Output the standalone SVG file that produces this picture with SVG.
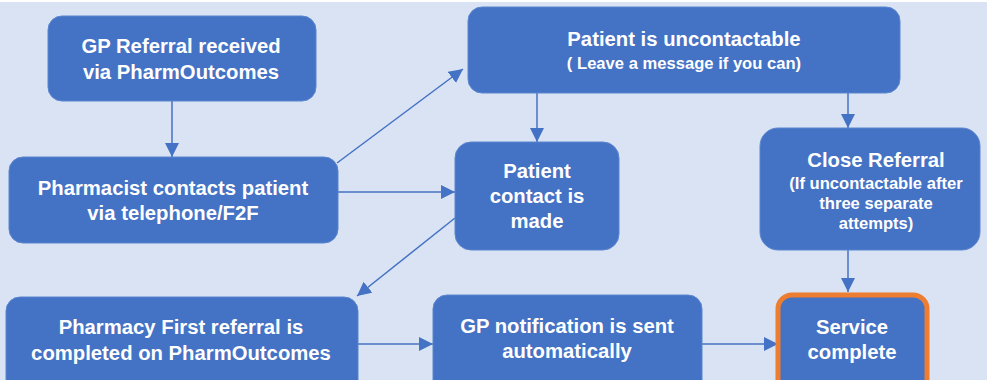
<svg xmlns="http://www.w3.org/2000/svg" width="990" height="380" viewBox="0 0 990 380">
<defs>
<style>
.n{fill:#4472C4;stroke:#5B86D0;stroke-width:1}
.t{font-family:"Liberation Sans",Arial,sans-serif;font-weight:bold;font-size:20.3px;fill:#fff;text-anchor:middle}
.s{font-size:16.6px}
.c{stroke:#4472C4;stroke-width:1.5;fill:none;marker-end:url(#ah)}
</style>
<marker id="ah" viewBox="0 0 10 10" refX="10" refY="5" markerWidth="14" markerHeight="14" markerUnits="userSpaceOnUse" orient="auto">
<path d="M0,0 L10,5 L0,10 z" fill="#4472C4"/>
</marker>
</defs>
<rect x="0" y="0" width="990" height="380" fill="#fff"/>
<rect x="0" y="2" width="987" height="378" fill="#DAE3F3"/>
<g id="connectors">
<line class="c" x1="172" y1="101" x2="172" y2="157"/>
<line class="c" x1="337" y1="163" x2="463" y2="69"/>
<line class="c" x1="338" y1="192" x2="455" y2="192"/>
<line class="c" x1="537" y1="93" x2="537" y2="142"/>
<line class="c" x1="848" y1="93" x2="848" y2="128"/>
<line class="c" x1="455" y1="218" x2="357" y2="296"/>
<line class="c" x1="358" y1="344" x2="433" y2="344"/>
<line class="c" x1="702" y1="344" x2="778" y2="344"/>
<line class="c" x1="848" y1="250" x2="848" y2="292"/>
</g>
<g id="gp-referral">
<rect class="n" x="48" y="16" width="268" height="85" rx="14"/>
<text class="t" x="181" y="53">GP Referral received</text>
<text class="t" x="181" y="79">via PharmOutcomes</text>
</g>
<g id="pharmacist-contacts">
<rect class="n" x="9" y="157" width="329" height="86" rx="14"/>
<text class="t" x="173" y="195">Pharmacist contacts patient</text>
<text class="t" x="173" y="220">via telephone/F2F</text>
</g>
<g id="uncontactable">
<rect class="n" x="468" y="7" width="432" height="86" rx="14"/>
<text class="t" x="684" y="46">Patient is uncontactable</text>
<text class="t s" x="684" y="69">( Leave a message if you can)</text>
</g>
<g id="contact-made">
<rect class="n" x="455" y="142" width="164" height="108" rx="16"/>
<text class="t" x="537" y="178">Patient</text>
<text class="t" x="537" y="203">contact is</text>
<text class="t" x="537" y="228">made</text>
</g>
<g id="close-referral">
<rect class="n" x="760" y="128" width="220" height="122" rx="18"/>
<text class="t" x="876" y="167">Close Referral</text>
<text class="t s" x="876" y="189">(If uncontactable after</text>
<text class="t s" x="876" y="209">three separate</text>
<text class="t s" x="876" y="229">attempts)</text>
</g>
<g id="pharmacy-first">
<rect class="n" x="6" y="297" width="352" height="100" rx="14"/>
<text class="t" x="181" y="334">Pharmacy First referral is</text>
<text class="t" x="181" y="360">completed on PharmOutcomes</text>
</g>
<g id="gp-notification">
<rect class="n" x="433" y="295" width="269" height="100" rx="14"/>
<text class="t" x="567" y="333">GP notification is sent</text>
<text class="t" x="567" y="358">automatically</text>
</g>
<g id="service-complete">
<rect x="778" y="295" width="149" height="100" rx="14" fill="#4472C4" stroke="#ED7D31" stroke-width="5"/>
<text class="t" x="852" y="334">Service</text>
<text class="t" x="852" y="359">complete</text>
</g>
</svg>
